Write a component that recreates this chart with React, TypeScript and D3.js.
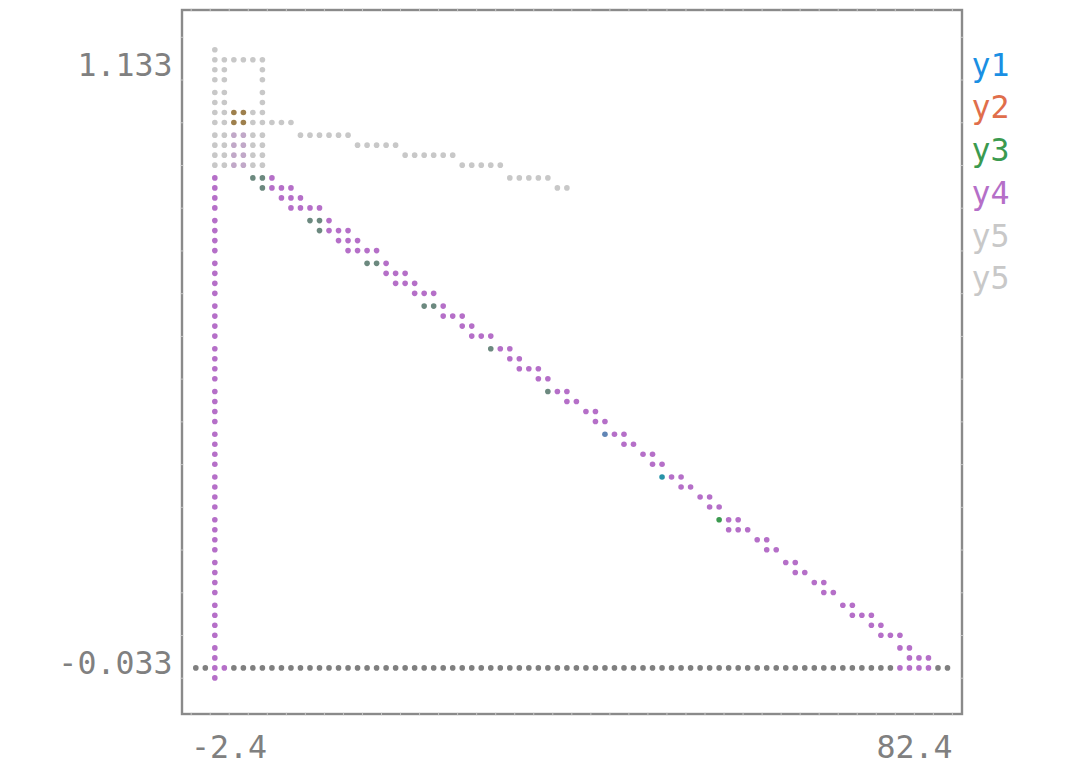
import React from "react";
import * as d3 from "d3";

// ---------------- data (data units) ----------------
const xDomain = [-2.4, 82.4];
const yDomain = [-0.033, 1.133];
const xTickLabels = ["-2.4", "82.4"];
const yTickLabels = ["1.133", "-0.033"];
const seriesNames = ["y1", "y2", "y3", "y4", "y5", "y5"];
const seriesColors = ["#1a8fe3", "#e06e4b", "#3b9a4f", "#b56fc8", "#c8c8c8", "#c8c8c8"];
const gridColor = "#7f7f7f";

// y1: scatter points
const y1Points: number[][] = [
  [43.7, 0.424],
  [50.1, 0.346],
];
// y2: scatter points
const y2Points: number[][] = [
  [2.4, 1.005],
  [3.4, 1.005],
  [2.4, 0.987],
  [3.4, 0.987],
];
// y3: scatter points
const y3Points: number[][] = [
  [2.4, 1.0],
  [4.5, 0.89],
  [5.5, 0.89],
  [5.5, 0.871],
  [10.9, 0.812],
  [11.9, 0.812],
  [11.9, 0.793],
  [17.2, 0.735],
  [18.3, 0.735],
  [23.6, 0.657],
  [24.6, 0.657],
  [31.0, 0.579],
  [37.4, 0.501],
  [43.7, 0.424],
  [50.1, 0.346],
  [56.4, 0.268],
];
// y4: vertical line, one point, and a band between two edges
const y4Vertical: number[][] = [
  [0, 0],
  [0, 0.895],
];
const y4Points: number[][] = [[3.0, 0.93]];
const y4UpperEdge: number[][] = [
  [4.02, 0.894],
  [18.32, 0.725],
  [44.24, 0.433],
  [58.02, 0.2585],
  [69.57, 0.1225],
  [79.43, 0.002],
];
const y4LowerEdge: number[][] = [
  [5.76, 0.8996],
  [80.17, 0.002],
];
// y5 (first): outline block
const y5aLines: number[][][] = [
  [[0.3, 1.1], [5.5, 1.1]],
  [[1.3, 1.1], [1.3, 0.91]],
  [[5.5, 1.1], [5.5, 0.91]],
  [[4.5, 1.0], [4.5, 0.91]],
  [[2.4, 0.97], [2.4, 0.91]],
];
// y5 (second): block column and descending line
const y5bLines: number[][][] = [
  [[3.4, 0.97], [3.4, 0.91]],
  [[6.61, 0.9872], [39.47, 0.8767]],
];

// ---------------- layout ----------------
const W = 1067;
const H = 768;
const COLS = 80;
const ROWS = 60;
const FONT = "'DejaVu Sans Mono', monospace";
const FS = 31.6;
const frame = { left: 182, top: 10, right: 962, bottom: 714 };

const gxScale = d3.scaleLinear().domain(xDomain).range([0, COLS]);
const gyScale = d3.scaleLinear().domain([yDomain[1], yDomain[0]]).range([0, ROWS]);
const dotX = d3.scaleLinear().domain([0, COLS - 1]).range([195.8, 947.5]);
const lineY = d3.scaleLinear().domain([0, 14]).range([49.7, 49.7 + 14 * 42.73]);
const dotY = (r: number) => lineY(Math.floor(r / 4)) + (r % 4) * 10;

type Dot = [number, number];

function rasterSegment(p0: number[], p1: number[]): Dot[] {
  const gx0 = gxScale(p0[0]), gy0 = gyScale(p0[1]);
  const gx1 = gxScale(p1[0]), gy1 = gyScale(p1[1]);
  const dx = gx1 - gx0, dy = gy1 - gy0;
  const out: Dot[] = [];
  if (Math.abs(dx) >= Math.abs(dy) && dx !== 0) {
    const lo = Math.min(gx0, gx1), hi = Math.max(gx0, gx1);
    for (let c = Math.floor(lo); c <= Math.floor(hi); c++) {
      const gx = Math.min(hi, Math.max(lo, c + 0.5));
      const gy = gy0 + ((gx - gx0) * dy) / dx;
      out.push([c, Math.floor(gy)]);
    }
  } else {
    const lo = Math.min(gy0, gy1), hi = Math.max(gy0, gy1);
    for (let r = Math.floor(lo); r <= Math.floor(hi); r++) {
      const gy = Math.min(hi, Math.max(lo, r + 0.5));
      const gx = dy === 0 ? gx0 : gx0 + ((gy - gy0) * dx) / dy;
      out.push([Math.floor(gx), r]);
    }
  }
  return out;
}

function rasterPolyline(pts: number[][]): Dot[] {
  const out: Dot[] = [];
  for (let i = 0; i < pts.length - 1; i++) out.push(...rasterSegment(pts[i], pts[i + 1]));
  return out;
}

function rasterPoints(pts: number[][]): Dot[] {
  return pts.map((p) => [Math.floor(gxScale(p[0])), Math.floor(gyScale(p[1]))] as Dot);
}

function rasterBand(a: number[][], b: number[][]): Dot[] {
  const rows = new Map<number, [number, number]>();
  for (const [c, r] of [...rasterPolyline(a), ...rasterPolyline(b)]) {
    const cur = rows.get(r);
    if (!cur) rows.set(r, [c, c]);
    else rows.set(r, [Math.min(cur[0], c), Math.max(cur[1], c)]);
  }
  const out: Dot[] = [];
  rows.forEach(([c0, c1], r) => {
    for (let c = c0; c <= c1; c++) out.push([c, r]);
  });
  return out;
}

function buildDots() {
  const series: Dot[][] = [
    rasterPoints(y1Points),
    rasterPoints(y2Points),
    rasterPoints(y3Points),
    [...rasterPolyline(y4Vertical), ...rasterPoints(y4Points), ...rasterBand(y4UpperEdge, y4LowerEdge)],
    y5aLines.flatMap((l) => rasterPolyline(l)),
    y5bLines.flatMap((l) => rasterPolyline(l)),
  ];
  const inRange = ([c, r]: Dot) => c >= 0 && c < COLS && r >= 0 && r < ROWS;
  const lit = new Set<number>();
  const cellMembers = new Map<number, number[]>();
  series.forEach((dots, si) => {
    dots.filter(inRange).forEach(([c, r]) => {
      lit.add(r * COLS + c);
      const ck = (r >> 2) * 40 + (c >> 1);
      if (!cellMembers.has(ck)) cellMembers.set(ck, []);
      const arr = cellMembers.get(ck)!;
      if (!arr.includes(si)) arr.push(si);
    });
  });
  // zero grid lines
  const zeroRow = Math.floor(gyScale(0));
  const zeroCol = Math.floor(gxScale(0));
  for (let c = 0; c < COLS; c++) lit.add(zeroRow * COLS + c);
  for (let r = 0; r < ROWS; r++) lit.add(r * COLS + zeroCol);

  // sequential blending in drawing order
  const cellColor = (ck: number) => {
    const m = cellMembers.get(ck);
    if (!m || m.length === 0) return gridColor;
    let col = d3.rgb(seriesColors[m[0]]);
    for (let i = 1; i < m.length; i++) {
      const nc = d3.rgb(seriesColors[m[i]]);
      col = d3.rgb(col.r * 0.6 + nc.r * 0.4, col.g * 0.6 + nc.g * 0.4, col.b * 0.6 + nc.b * 0.4);
    }
    return col.formatHex();
  };

  const result: { c: number; r: number; color: string }[] = [];
  lit.forEach((k) => {
    const r = Math.floor(k / COLS), c = k % COLS;
    result.push({ c, r, color: cellColor((r >> 2) * 40 + (c >> 1)) });
  });
  return result;
}

const vSeams = d3.range(0, 16).map((i) => 37.3 + i * 42.73);
const hSeams = d3.range(0, 41).map((j) => 191.2 + j * 19.03);

export default function App() {
  const dots = React.useMemo(buildDots, []);
  const labelColor = "#808080";
  return (
    <svg
      width={W}
      height={H}
      style={{ position: "fixed", left: 0, top: 0, display: "block", background: "#fff" }}
    >
      <rect
        x={frame.left}
        y={frame.top}
        width={frame.right - frame.left}
        height={frame.bottom - frame.top}
        fill="none"
        stroke="#8a8a8a"
        strokeWidth={2.4}
      />
      <g stroke="#c4c4c4" strokeWidth={1}>
        {vSeams
          .filter((y) => y > frame.top + 5 && y < frame.bottom - 5)
          .map((y, i) => (
            <g key={"v" + i}>
              <line x1={frame.left - 1.2} x2={frame.left + 1.2} y1={y} y2={y} />
              <line x1={frame.right - 1.2} x2={frame.right + 1.2} y1={y} y2={y} />
            </g>
          ))}
        {hSeams
          .filter((x) => x > frame.left + 5 && x < frame.right - 5)
          .map((x, i) => (
            <g key={"h" + i}>
              <line x1={x} x2={x} y1={frame.top - 1.2} y2={frame.top + 1.2} />
              <line x1={x} x2={x} y1={frame.bottom - 1.2} y2={frame.bottom + 1.2} />
            </g>
          ))}
      </g>
      {dots.map((d, i) => (
        <circle key={i} cx={dotX(d.c)} cy={dotY(d.r)} r={2.8} fill={d.color} />
      ))}
      <g fontFamily={FONT} fontSize={FS} fill={labelColor}>
        <text x={172.5} y={lineY(0) + 15 + 11} textAnchor="end">
          {yTickLabels[0]}
        </text>
        <text x={172.5} y={lineY(14) + 15 + 11} textAnchor="end">
          {yTickLabels[1]}
        </text>
        <text x={191} y={758} textAnchor="start">
          {xTickLabels[0]}
        </text>
        <text x={952.5} y={758} textAnchor="end">
          {xTickLabels[1]}
        </text>
      </g>
      <g fontFamily={FONT} fontSize={FS}>
        {seriesNames.map((n, i) => (
          <text key={i} x={971.5} y={lineY(i) + 15 + 11} fill={seriesColors[i]}>
            {n}
          </text>
        ))}
      </g>
    </svg>
  );
}
